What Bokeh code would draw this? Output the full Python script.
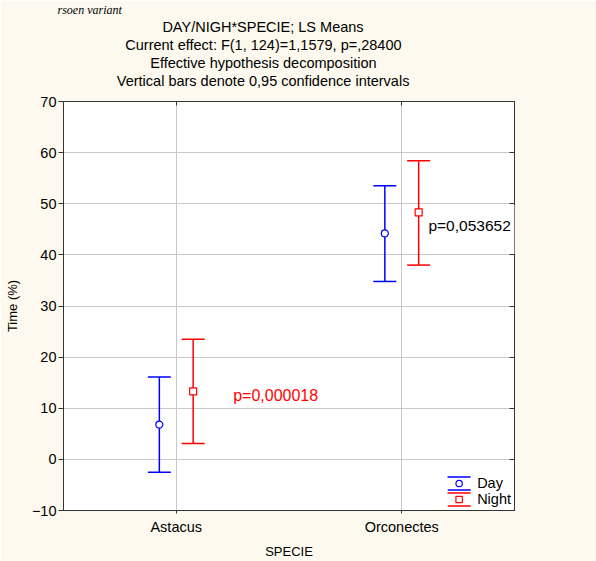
from bokeh.plotting import figure
from bokeh.models import (ColumnDataSource, Whisker, TeeHead, Label, Legend, LegendItem, Title,
                          FactorRange, Range1d, LinearAxis, CategoricalAxis, FixedTicker)
from bokeh.transform import dodge
from bokeh.embed import file_html
from bokeh.resources import INLINE

# ---- data ----
species = ["Astacus", "Orconectes"]
day_mean = [6.8, 44.2]
day_lower = [-2.5, 34.8]
day_upper = [16.1, 53.5]
night_mean = [13.3, 48.3]
night_lower = [3.1, 38.0]
night_upper = [23.5, 58.4]
y_ticks = [-10, 0, 10, 20, 30, 40, 50, 60, 70]
title_lines = [
    "DAY/NIGH*SPECIE; LS Means",
    "Current effect: F(1, 124)=1,1579, p=,28400",
    "Effective hypothesis decomposition",
    "Vertical bars denote 0,95 confidence intervals",
]
p_labels = ["p=0,000018", "p=0,053652"]
series_names = ["Day", "Night"]
caption = "rsoen variant"

FONT = "Liberation Sans"
CREAM = "#fdf9ee"
FRAME = "#333333"
GRID = "#c8c8c8"
BLUE = "#0000ff"
RED = "#ff0000"
TSIZE = 14.5

p = figure(width=596, height=561,
           x_range=FactorRange(*species), y_range=Range1d(-10, 70),
           output_backend="svg", toolbar_location=None,
           min_border_left=63, min_border_right=82,
           min_border_top=100, min_border_bottom=48,
           background_fill_color="white", border_fill_color=CREAM,
           outline_line_color=FRAME, outline_line_width=1)

def style_axis(ax):
    ax.axis_line_color = FRAME
    ax.axis_line_width = 1
    ax.major_tick_line_color = FRAME
    ax.minor_tick_line_color = None
    ax.major_label_text_font = FONT
    ax.major_label_text_font_size = f"{TSIZE}px"
    ax.major_label_text_color = "black"
    ax.axis_label_text_font = FONT
    ax.axis_label_text_font_style = "normal"
    ax.axis_label_text_font_size = "13px"
    ax.axis_label_text_color = "black"

ya = p.yaxis[0]
ya.ticker = FixedTicker(ticks=y_ticks)
style_axis(ya)
ya.major_tick_out = 5
ya.major_tick_in = 0
ya.major_label_standoff = 2
ya.axis_label = "Time (%)"
ya.axis_label_standoff = 9

xa = p.xaxis[0]
style_axis(xa)
xa.major_tick_out = 3
xa.major_tick_in = 0
xa.major_label_standoff = 5
xa.axis_label = "SPECIE"
xa.axis_label_standoff = 6

p.xgrid.grid_line_color = GRID
p.ygrid.grid_line_color = GRID
p.ygrid.ticker = FixedTicker(ticks=y_ticks)

src = ColumnDataSource(dict(species=species,
                            day_mean=day_mean, day_lower=day_lower, day_upper=day_upper,
                            night_mean=night_mean, night_lower=night_lower, night_upper=night_upper))

OFF = 0.075
specs = [("day", -OFF, BLUE, "circle"), ("night", OFF, RED, "square")]
rends = []
caps = []
# one point far outside the visible y range: only used for the legend icon
icon_src = ColumnDataSource(dict(left=[species[0]], right=[species[0]], top=[-100], bottom=[-100]))
for key, off, color, marker in specs:
    w = Whisker(source=src, base=dodge("species", off, range=p.x_range),
                lower=key + "_lower", upper=key + "_upper",
                line_color=color, line_width=1.5,
                upper_head=TeeHead(size=23, line_color=color, line_width=1.5),
                lower_head=TeeHead(size=23, line_color=color, line_width=1.5))
    p.add_layout(w)
    r = p.scatter(x=dodge("species", off, range=p.x_range), y=key + "_mean", source=src,
                  marker=marker, size=7, fill_color="white", line_color=color, line_width=1.2)
    rends.append(r)
    caps.append(p.quad(left="left", right="right", top="top", bottom="bottom", source=icon_src,
                       fill_color=None, line_color=color, line_width=1.5, line_dash="23 13"))

# p-values (inside the frame)
p.add_layout(Label(x=0.7525, y=12.53, text=p_labels[0], text_align="left",
                   text_baseline="alphabetic", text_font=FONT, text_font_size="16px",
                   text_color=RED))
p.add_layout(Label(x=1.605, y=44.95, text=p_labels[1], text_align="left",
                   text_baseline="alphabetic", text_font=FONT, text_font_size="15.5px",
                   text_color="black", background_fill_color="white",
                   padding=dict(left=3, right=4, top=12, bottom=20)))

# top axis: inward ticks only
ta = CategoricalAxis()
style_axis(ta)
ta.major_tick_in = 4
ta.major_tick_out = 0
ta.major_label_text_font_size = "1px"
ta.major_label_text_color = CREAM
ta.major_label_standoff = 9
p.add_layout(ta, "above")

offsets = [98.9, 61.8, 86.8, 53.3]
for line, off in reversed(list(zip(title_lines, offsets))):
    p.add_layout(Title(text=line, align="left", offset=off, standoff=0,
                       text_font=FONT, text_font_size=f"{TSIZE}px",
                       text_font_style="normal", text_color="black"), "above")
p.add_layout(Title(text=caption, align="left", offset=-6, standoff=0,
                   text_font="Liberation Serif", text_font_size="12px",
                   text_font_style="italic", text_color="black"), "above")

ra = LinearAxis(ticker=FixedTicker(ticks=y_ticks))
style_axis(ra)
ra.major_tick_in = 5
ra.major_tick_out = 0
ra.major_label_standoff = 0
ra.major_label_overrides = {t: "" for t in y_ticks}
p.add_layout(ra, "right")

legend = Legend(items=[LegendItem(label=series_names[0], renderers=[caps[0], rends[0]]),
                       LegendItem(label=series_names[1], renderers=[caps[1], rends[1]])],
                location="bottom_right", orientation="vertical",
                glyph_width=29, glyph_height=16, label_height=16, label_standoff=4,
                spacing=0, padding=2, margin=3,
                border_line_color=None, background_fill_alpha=0,
                label_text_font=FONT, label_text_font_size=f"{TSIZE}px", label_text_color="black")
p.add_layout(legend)

open("out.html", "w").write(file_html(p, INLINE))
